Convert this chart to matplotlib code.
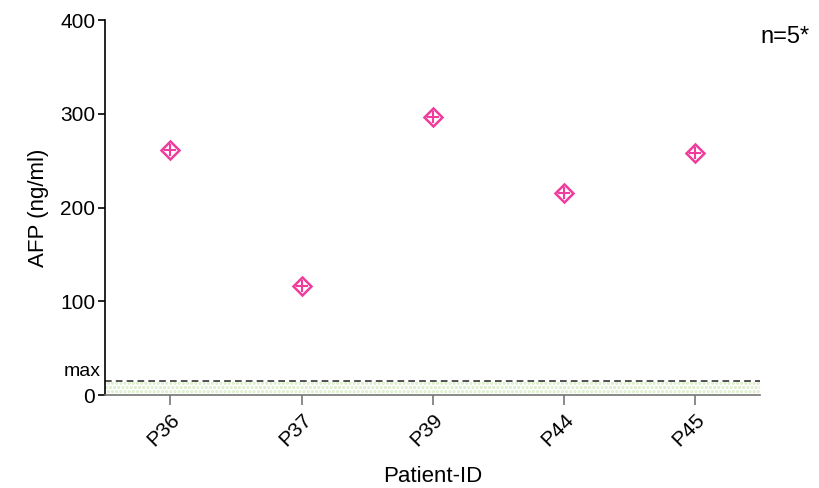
import matplotlib
matplotlib.use("Agg")
import matplotlib.pyplot as plt
import numpy as np

patients = ["P36", "P37", "P39", "P44", "P45"]
afp = [261, 117, 297, 216, 258]
max_level = 15
y_ticks = [0, 100, 200, 300, 400]

plt.rcParams['font.family'] = ['Liberation Sans', 'DejaVu Sans']
plt.rcParams['hatch.linewidth'] = 1.5

fig = plt.figure(figsize=(8.2, 4.88), dpi=100)
ax = fig.add_axes([0.128, 0.19, 0.799, 0.769])

x = np.arange(len(patients))

# normal range band + upper limit
ax.fill_between([-0.5, 4.5], 0, max_level, facecolor='none', edgecolor='#d6ecc0',
                hatch='....', linewidth=0)
ax.axhline(max_level, color='#333333', linestyle=(0, (4, 2.5)), linewidth=1.2)

pink = '#f03c9c'
ax.plot(x, afp, linestyle='none', marker='D', markersize=9, markerfacecolor='none',
        markeredgecolor=pink, markeredgewidth=1.8)
ax.plot(x, afp, linestyle='none', marker='+', markersize=9, color=pink, markeredgewidth=1.5)

ax.set_xlim(-0.5, 4.5)
ax.set_ylim(0, 400)
ax.set_yticks(y_ticks)
ax.set_xticks(x)
ax.set_xticklabels(patients, rotation=45, ha='right', rotation_mode='anchor', fontsize=15)
ax.tick_params(axis='y', labelsize=15, length=5, width=1.2, direction='out', pad=2)
ax.tick_params(axis='x', length=7, width=1.2, color='#777777', direction='out')

ax.spines['top'].set_visible(False)
ax.spines['right'].set_visible(False)
ax.spines['left'].set_linewidth(1.2)
ax.spines['bottom'].set_color('#777777')
ax.spines['bottom'].set_linewidth(1.2)

ax.text(-0.53, max_level + 1, 'max', ha='right', va='bottom', fontsize=14)
ax.text(1.0, 0.985, 'n=5*', transform=ax.transAxes, ha='left', va='top', fontsize=17)

ax.set_ylabel('AFP (ng/ml)', fontsize=16, labelpad=8)
ax.set_xlabel('Patient-ID', fontsize=16, labelpad=12)

fig.savefig('out.png', dpi=100)
